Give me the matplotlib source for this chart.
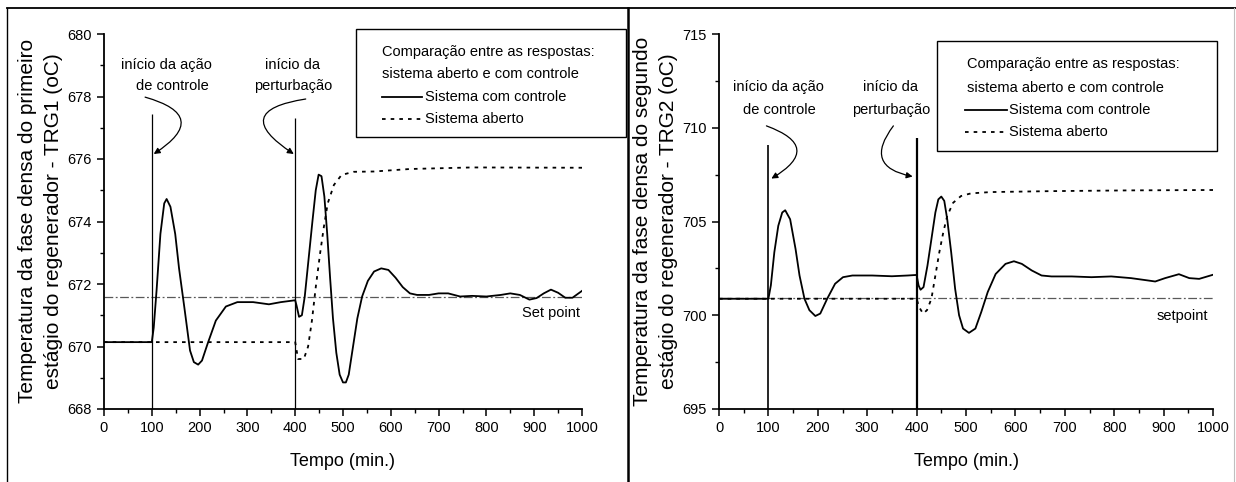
import matplotlib
matplotlib.use("Agg")
import matplotlib.pyplot as plt
from matplotlib.lines import Line2D
from matplotlib.patches import Rectangle
from matplotlib.ticker import MultipleLocator

plt.rcParams["font.family"] = ["Liberation Sans", "DejaVu Sans"]

# ---------------- data ----------------
# TRG1 (first stage) - closed loop
t1_ctrl = [0, 100, 104, 110, 118, 126, 131, 139, 149, 157, 168, 180, 188, 197, 205,
           217, 234, 255, 279, 312, 345, 370, 400, 403, 408, 414, 420, 428, 436, 443,
           449, 455, 461, 467, 473, 479, 486, 493, 500, 506, 512, 520, 530, 540, 552,
           565, 580, 595, 610, 625, 640, 655, 680, 700, 720, 745, 770, 800, 830, 850,
           870, 890, 905, 920, 935, 950, 965, 980, 1000]
y1_ctrl = [670.14, 670.14, 670.6, 671.8, 673.6, 674.58, 674.72, 674.47, 673.6, 672.5,
           671.26, 669.87, 669.5, 669.42, 669.55, 670.1, 670.83, 671.28, 671.42, 671.42,
           671.35, 671.42, 671.48, 671.3, 670.95, 671.0, 671.6, 672.8, 674.0, 675.0,
           675.5, 675.45, 674.8, 673.6, 672.2, 670.9, 669.8, 669.1, 668.85, 668.85,
           669.1, 669.9, 670.9, 671.6, 672.1, 672.4, 672.5, 672.45, 672.2, 671.9, 671.7,
           671.65, 671.65, 671.7, 671.7, 671.6, 671.62, 671.6, 671.65, 671.7, 671.65,
           671.5, 671.55, 671.7, 671.82, 671.72, 671.56, 671.56, 671.78]
# TRG1 - open loop
t1_open = [0, 400, 406, 418, 427, 435, 443, 452, 460, 468, 481, 497, 522, 565, 640, 770, 1000]
y1_open = [670.14, 670.14, 669.6, 669.6, 670.0, 670.83, 671.9, 672.97, 673.83, 674.58,
           675.17, 675.49, 675.59, 675.6, 675.68, 675.73, 675.72]
setpoint1 = 671.6

# TRG2 (second stage) - closed loop
t2_ctrl = [0, 100, 105, 112, 120, 128, 134, 144, 155, 163, 173, 183, 195, 205, 219,
           235, 251, 270, 310, 350, 382, 400, 404, 408, 414, 422, 430, 438, 444, 450,
           456, 462, 470, 478, 486, 494, 506, 519, 531, 544, 560, 580, 597, 613, 633,
           653, 673, 714, 754, 794, 834, 867, 883, 903, 931, 952, 972, 1000]
y2_ctrl = [700.88, 700.88, 701.6, 703.36, 704.77, 705.48, 705.6, 705.12, 703.53, 702.12,
           700.88, 700.27, 699.96, 700.09, 700.88, 701.68, 702.03, 702.12, 702.12,
           702.08, 702.12, 702.15, 701.59, 701.36, 701.5, 702.65, 704.06, 705.48, 706.18,
           706.33, 706.1, 705.12, 703.36, 701.41, 700.0, 699.29, 699.06, 699.29, 700.18,
           701.24, 702.2, 702.74, 702.88, 702.74, 702.39, 702.12, 702.07, 702.07, 702.03,
           702.07, 701.98, 701.86, 701.8, 701.98, 702.19, 701.98, 701.94, 702.16]
# TRG2 - open loop
t2_open = [0, 400, 405, 413, 421, 430, 438, 446, 454, 462, 474, 490, 510, 550, 673, 834, 1000]
y2_open = [700.88, 700.88, 700.44, 700.09, 700.27, 700.88, 702.12, 703.36, 704.42, 705.3,
           706.0, 706.36, 706.5, 706.57, 706.62, 706.66, 706.68]
setpoint2 = 700.9

W, H = 1236, 482


def fx(x):
    return x / W


def fy(y):
    return 1 - y / H


fig = plt.figure(figsize=(W / 100, H / 100), dpi=100)
fig.patch.set_facecolor("white")

ax1 = fig.add_axes([fx(104), fy(409), fx(582) - fx(104), fy(34) - fy(409)])
ax2 = fig.add_axes([fx(719), fy(409), fx(1213) - fx(719), fy(34) - fy(409)])

dotted = (0, (2.0, 2.8))
sp_dash = (0, (7, 2, 1.5, 2))


def style_axes(ax, ylim, major, minor):
    ax.set_xlim(0, 1000)
    ax.set_ylim(*ylim)
    for s in ("top", "right"):
        ax.spines[s].set_visible(False)
    for s in ("left", "bottom"):
        ax.spines[s].set_linewidth(1.3)
    ax.xaxis.set_major_locator(MultipleLocator(100))
    ax.xaxis.set_minor_locator(MultipleLocator(50))
    ax.yaxis.set_major_locator(MultipleLocator(major))
    ax.yaxis.set_minor_locator(MultipleLocator(minor))
    ax.tick_params(which="major", direction="out", length=5, width=1.1,
                   labelsize=10.5, pad=4)
    ax.tick_params(which="minor", direction="out", length=3, width=1.0)
    ax.set_facecolor("none")


style_axes(ax1, (668, 680), 2, 1)
style_axes(ax2, (695, 715), 5, 2.5)

# curves
for ax, tc, yc, to, yo, sp in ((ax1, t1_ctrl, y1_ctrl, t1_open, y1_open, setpoint1),
                              (ax2, t2_ctrl, y2_ctrl, t2_open, y2_open, setpoint2)):
    ax.plot([0, 1000], [sp, sp], color="0.35", lw=0.9, ls=sp_dash, zorder=2)
    ax.plot(to, yo, color="black", lw=1.3, ls=dotted, zorder=3)
    ax.plot(tc, yc, color="black", lw=1.3, zorder=4, solid_joinstyle="round")

# event markers
ax1.vlines(100, 668, 677.45, color="black", lw=0.9)
ax1.vlines(400, 668, 677.3, color="black", lw=0.9)
ax2.vlines(100, 695, 709.1, color="black", lw=1.2)
ax2.vlines(400, 695, 709.45, color="black", lw=1.6)

afs = 10.5
# annotations, first stage
ax1.text(130, 679.0, "início da ação", ha="center", va="center", fontsize=afs)
ax1.text(143, 678.33, "de controle", ha="center", va="center", fontsize=afs)
ax1.text(395, 679.0, "início da", ha="center", va="center", fontsize=afs)
ax1.text(395, 678.33, "perturbação", ha="center", va="center", fontsize=afs)
arrow_kw = dict(arrowstyle="-|>", color="black", lw=0.9, mutation_scale=9,
                shrinkA=0, shrinkB=0)
ax1.annotate("", xy=(104, 676.16), xytext=(86, 677.98),
             arrowprops=dict(connectionstyle="arc3,rad=-1.1", **arrow_kw))
ax1.annotate("", xy=(397, 676.16), xytext=(422, 677.92),
             arrowprops=dict(connectionstyle="arc3,rad=1.3", **arrow_kw))
ax1.text(995, 671.07, "Set point", ha="right", va="center", fontsize=afs)

# annotations, second stage
ax2.text(121, 712.18, "início da ação", ha="center", va="center", fontsize=afs)
ax2.text(123, 710.96, "de controle", ha="center", va="center", fontsize=afs)
ax2.text(348, 712.18, "início da", ha="center", va="center", fontsize=afs)
ax2.text(348, 710.96, "perturbação", ha="center", va="center", fontsize=afs)
ax2.annotate("", xy=(106, 707.29), xytext=(96, 710.1),
             arrowprops=dict(connectionstyle="arc3,rad=-1.05", **arrow_kw))
ax2.annotate("", xy=(392, 707.4), xytext=(353, 710.1),
             arrowprops=dict(connectionstyle="arc3,rad=0.8", **arrow_kw))
ax2.text(990, 699.95, "setpoint", ha="right", va="center", fontsize=afs)

# axis titles
lfs = 15
fig.text(fx(28), fy(221), "Temperatura da fase densa do primeiro",
         rotation=90, ha="center", va="center", fontsize=lfs)
fig.text(fx(54), fy(221), "estágio do regenerador - TRG1 (oC)",
         rotation=90, ha="center", va="center", fontsize=lfs)
fig.text(fx(642), fy(221), "Temperatura da fase densa do segundo",
         rotation=90, ha="center", va="center", fontsize=lfs)
fig.text(fx(668), fy(221), "estágio do regenerador - TRG2 (oC)",
         rotation=90, ha="center", va="center", fontsize=lfs)
fig.text(fx(343), fy(462), "Tempo (min.)", ha="center", va="center", fontsize=13)
fig.text(fx(966), fy(462), "Tempo (min.)", ha="center", va="center", fontsize=13)


# legend boxes
def legend_box(x0, y0, x1, y1, tx, rows, sx0, sx1, lx):
    fig.add_artist(Rectangle((fx(x0), fy(y1)), fx(x1) - fx(x0), fy(y0) - fy(y1),
                             transform=fig.transFigure, facecolor="white",
                             edgecolor="black", lw=1.0, zorder=5))
    fig.text(fx(tx), fy(rows[0]), "Comparação entre as respostas:", ha="left",
             va="center", fontsize=afs, zorder=6)
    fig.text(fx(tx), fy(rows[1]), "sistema aberto e com controle", ha="left",
             va="center", fontsize=afs, zorder=6)
    fig.add_artist(Line2D([fx(sx0), fx(sx1)], [fy(rows[2])] * 2, color="black",
                          lw=1.3, transform=fig.transFigure, zorder=6))
    fig.text(fx(lx), fy(rows[2]), "Sistema com controle", ha="left",
             va="center", fontsize=afs, zorder=6)
    fig.add_artist(Line2D([fx(sx0), fx(sx1)], [fy(rows[3])] * 2, color="black",
                          lw=1.3, ls=dotted, transform=fig.transFigure, zorder=6))
    fig.text(fx(lx), fy(rows[3]), "Sistema aberto", ha="left",
             va="center", fontsize=afs, zorder=6)


legend_box(356, 29, 626, 137, 382, (52, 74, 97, 119), 382, 422, 425)
legend_box(937, 41, 1217, 151, 967, (64, 88, 110, 132), 965, 1007, 1009)

# page frame and panel divider
fig.add_artist(Line2D([fx(7), fx(1236)], [fy(8), fy(8)], color="black", lw=1.3,
                      transform=fig.transFigure))
fig.add_artist(Line2D([fx(7), fx(7)], [fy(8), fy(482)], color="black", lw=1.0,
                      transform=fig.transFigure))
fig.add_artist(Line2D([fx(628), fx(628)], [fy(8), fy(482)], color="black", lw=1.8,
                      transform=fig.transFigure))
fig.add_artist(Line2D([fx(1234), fx(1234)], [fy(8), fy(482)], color="0.75", lw=0.8,
                      transform=fig.transFigure))

fig.savefig("out.png", dpi=100, facecolor="white")
